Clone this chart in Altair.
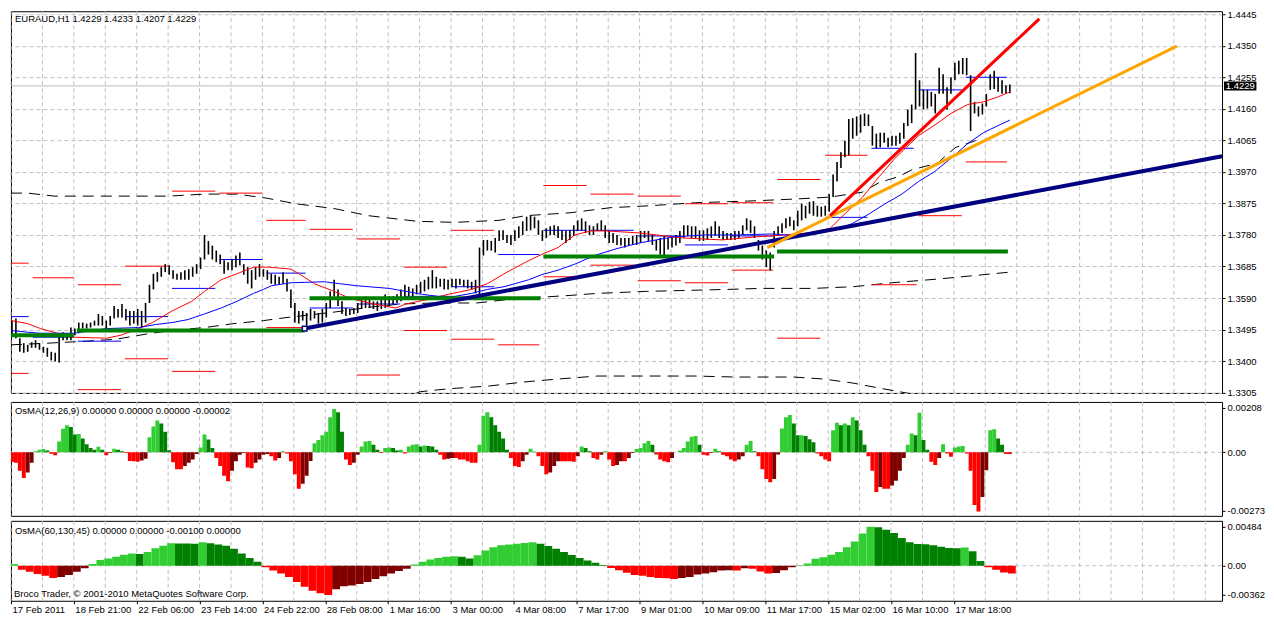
import altair as alt
import pandas as pd

# ---------------- texts ----------------
HEADER = "EURAUD,H1  1.4229 1.4233 1.4207 1.4229"
OSMA1_TITLE = "OsMA(12,26,9) 0.00000 0.00000 0.00000 -0.00002"
OSMA2_TITLE = "OsMA(60,130,45) 0.00000 0.00000 -0.00100 0.00000"
COPYRIGHT = "Broco Trader, \u00a9 2001-2010 MetaQuotes Software Corp."
LAST_PRICE = 1.4229
LAST_TEXT = "1.4229"

PRICE_TICKS = [1.4445, 1.4350, 1.4255, 1.4160, 1.4065, 1.3970, 1.3875,
               1.3780, 1.3685, 1.3590, 1.3495, 1.3400, 1.3305]
OSMA1_TICKS = [0.00208, 0.0, -0.00273]
OSMA1_TEXT = ["0.00208", "0.00", "-0.00273"]
OSMA2_TICKS = [0.00484, 0.0, -0.00362]
OSMA2_TEXT = ["0.00484", "0.00", "-0.00362"]
TIME_LABELS = ["17 Feb 2011", "18 Feb 21:00", "22 Feb 06:00", "23 Feb 14:00",
               "24 Feb 22:00", "28 Feb 08:00", "1 Mar 16:00", "3 Mar 00:00",
               "4 Mar 08:00", "7 Mar 17:00", "9 Mar 01:00", "10 Mar 09:00",
               "11 Mar 17:00", "15 Mar 02:00", "16 Mar 10:00", "17 Mar 18:00"]

# ---------------- price bars (2-hour steps, in pips) ----------------
HIGH = [13522,13528,13469,13454,13449,13457,13463,13454,13443,13440,
        13428,13425,13478,13487,13484,13501,13498,13516,13516,13513,
        13516,13522,13542,13536,13522,13536,13566,13557,13572,13557,
        13551,13551,13557,13551,13575,13630,13663,13668,13683,13692,
        13689,13674,13663,13668,13674,13677,13683,13692,13712,13780,
        13762,13748,13733,13721,13704,13698,13706,13718,13727,13692,
        13683,13674,13683,13692,13677,13674,13663,13660,13654,13668,
        13648,13616,13575,13551,13551,13545,13557,13551,13545,13557,
        13575,13610,13645,13616,13580,13560,13557,13560,13575,13589,
        13595,13589,13580,13580,13589,13601,13595,13595,13601,13616,
        13630,13624,13619,13630,13639,13645,13654,13674,13654,13648,
        13648,13645,13648,13648,13648,13645,13645,13639,13645,13742,
        13765,13765,13762,13771,13794,13794,13780,13780,13794,13806,
        13821,13835,13838,13835,13824,13794,13800,13806,13809,13806,
        13794,13792,13794,13809,13824,13830,13821,13809,13806,13815,
        13824,13809,13792,13786,13780,13771,13771,13771,13777,13780,
        13792,13792,13792,13780,13765,13771,13777,13771,13777,13780,
        13792,13809,13809,13806,13806,13794,13794,13800,13806,13821,
        13806,13792,13786,13786,13792,13792,13809,13830,13824,13806,
        13765,13748,13733,13727,13792,13806,13815,13830,13835,13824,
        13853,13874,13868,13880,13882,13868,13865,13868,13903,13962,
        14000,14029,14064,14129,14132,14137,14143,14146,14143,14108,
        14085,14088,14088,14073,14079,14079,14088,14117,14158,14173,
        14328,14246,14217,14217,14211,14205,14284,14264,14225,14255,
        14299,14305,14313,14313,14261,14181,14167,14176,14205,14264,
        14275,14255,14246,14231,14233]
LOW = [13478,13469,13428,13425,13428,13440,13440,13434,13425,13413,
       13402,13399,13396,13463,13463,13463,13478,13484,13498,13498,
       13501,13507,13507,13507,13498,13507,13528,13531,13531,13522,
       13507,13513,13507,13501,13516,13575,13616,13639,13654,13668,
       13660,13648,13645,13645,13645,13645,13654,13663,13677,13706,
       13721,13706,13698,13692,13663,13674,13674,13683,13689,13660,
       13633,13619,13645,13654,13654,13645,13633,13630,13630,13633,
       13610,13560,13516,13513,13522,13507,13522,13528,13513,13516,
       13531,13560,13595,13566,13542,13536,13539,13542,13545,13557,
       13560,13560,13557,13551,13557,13560,13566,13572,13575,13580,
       13595,13595,13595,13601,13604,13610,13616,13619,13619,13624,
       13616,13616,13624,13619,13630,13624,13619,13616,13604,13595,
       13718,13733,13733,13727,13762,13765,13756,13750,13762,13771,
       13780,13792,13794,13800,13780,13762,13771,13780,13780,13771,
       13765,13756,13765,13777,13792,13794,13786,13780,13780,13792,
       13794,13771,13756,13756,13750,13748,13742,13748,13750,13750,
       13756,13771,13762,13750,13733,13721,13718,13736,13742,13748,
       13756,13771,13777,13771,13771,13762,13762,13765,13771,13777,
       13771,13765,13765,13765,13765,13771,13780,13794,13786,13771,
       13733,13706,13683,13674,13742,13777,13786,13800,13806,13794,
       13806,13824,13830,13844,13838,13835,13835,13838,13850,13894,
       13941,13982,14014,14020,14070,14079,14088,14108,14108,14049,
       14041,14044,14058,14044,14049,14049,14055,14070,14108,14117,
       14158,14167,14158,14161,14167,14146,14205,14205,14158,14205,
       14246,14264,14264,14261,14093,14146,14137,14143,14167,14217,
       14220,14211,14205,14205,14207]

# ---------------- OsMA histograms (1e-5 units) ----------------
OSMA1 = [-45,-49,-86,-120,-94,-49,5,12,15,8,
         -6,-14,50,110,126,118,83,85,65,38,
         20,12,26,12,-14,-3,17,12,5,-3,
         -40,-41,-44,-38,-30,70,120,149,134,96,
         10,-46,-79,-79,-64,-49,-33,-8,23,83,
         60,20,-26,-64,-109,-135,-86,-41,-11,-3,
         -71,-74,-49,-33,-11,-8,-18,-38,-26,5,
         -5,-41,-102,-170,-147,-109,-40,42,58,80,
         96,164,202,187,96,-33,-59,-49,-11,27,
         50,53,35,12,-3,20,23,20,8,12,
         -5,27,35,38,27,32,30,27,12,-11,
         -33,-30,-26,-26,-33,-33,-41,-49,-49,35,
         171,187,164,126,96,65,12,-26,-64,-68,
         -41,-11,17,3,-18,-64,-102,-94,-64,-41,
         -41,-41,-41,-44,-18,27,20,5,-26,-33,
         -11,5,-33,-64,-59,-41,-41,-26,-3,15,
         20,42,53,35,-10,-33,-41,-46,-26,1,
         8,20,50,73,76,35,-11,-15,-3,17,
         5,-11,-18,-33,-41,-33,-18,35,53,5,
         -18,-79,-124,-140,-124,-10,111,164,174,134,
         80,80,76,61,47,-5,-18,-33,-41,103,
         138,126,134,126,164,149,103,35,-18,-86,
         -185,-162,-170,-170,-155,-132,-86,-26,35,88,
         80,184,58,12,-44,-59,-26,38,-5,-21,
         23,27,30,-5,-86,-246,-276,-208,-83,103,
         108,65,35,-8,-8]
OSMA2 = [20,-49,-76,-103,-125,-152,-141,-114,-76,-30,
         20,70,90,110,135,150,146,171,217,247,
         277,276,275,273,290,277,262,247,209,152,
         95,49,-20,-60,-95,-140,-200,-260,-310,-342,
         -362,-290,-255,-245,-225,-200,-165,-130,-95,-65,
         -38,15,50,76,95,112,118,110,90,130,
         190,230,255,264,272,282,290,272,245,209,
         171,133,95,65,38,8,-27,-57,-87,-114,
         -125,-140,-152,-155,-163,-152,-140,-110,-95,-80,
         -60,-55,-58,-30,-38,-70,-95,-90,-55,-19,
         5,27,87,105,135,170,230,300,400,484,
         475,445,405,342,290,270,266,255,235,220,
         217,225,180,60,-20,-50,-85,-95]

# ---------------- moving averages (hour, pips) ----------------
RED_MA = [(0,13522),(8.5,13513),(15,13498),(23.5,13484),(32,13472),(48.5,13469),
          (56,13478),(65,13498),(72,13516),(82,13551),(92,13580),(98.5,13610),
          (107,13645),(115,13663),(123.5,13683),(131,13683),(142.5,13677),(147.5,13660),
          (154.5,13633),(164.5,13610),(172.5,13589),(184.5,13572),(196,13560),(201,13572),
          (212.5,13586),(222.5,13601),(234.5,13616),(242.5,13633),(252.5,13668),(262,13698),
          (270,13721),(278.5,13742),(287,13780),(295,13792),(303.5,13792),(320,13786),
          (328.5,13780),(342,13771),(362,13765),(378.5,13774),(393.5,13780),(406,13786),
          (417,13800),(423.5,13838),(433.5,13894),(442,13956),(450,14011),(462,14079),
          (471,14114),(478.5,14146),(487,14173),(495,14181),(502.5,14196),(508.5,14211)]
BLUE_MA = [(0,13492),(8.5,13487),(15,13484),(32,13484),(48.5,13498),(65,13501),
           (73.5,13510),(82,13516),(90,13525),(98.5,13542),(107,13560),(115,13580),
           (123.5,13604),(128.5,13616),(132.5,13627),(142.5,13636),(159.5,13639),(167.5,13633),
           (176,13627),(192.5,13619),(201,13610),(209.5,13601),(217.5,13595),(226,13595),
           (234.5,13604),(242.5,13616),(251,13624),(263.5,13645),(270,13660),(278.5,13674),
           (287,13692),(297,13718),(308.5,13739),(320,13756),(328.5,13765),(337,13774),
           (353.5,13780),(370,13780),(387,13783),(400,13777),(412,13786),(422,13800),
           (428.5,13815),(437,13844),(445,13874),(453.5,13903),(462,13941),(470,13970),
           (478.5,14011),(487,14055),(495,14088),(502,14108),(508.5,14126)]
ENV_UPPER = [(0,13906),(8.5,13906),(22,13897),(53.5,13897),(80,13897),(98.5,13903),
             (115,13903),(130,13891),(145,13874),(165,13859),(182,13838),(207,13821),
             (226,13818),(248.5,13824),(262,13838),(285,13847),(305,13862),(325,13868),
             (348.5,13877),(375,13882),(398.5,13888),(417,13894),(433.5,13909),(442,13938),
             (452,13956),(458.5,13976),(472,13997),(476,14020),(481,14044),(491,14064)]
ENV_MIDDLE = [(0,13449),(18.5,13454),(38.5,13460),(53.5,13466),(68.5,13481),(81,13492),
              (98.5,13501),(113.5,13513),(128.5,13522),(140,13531),(165,13548),(183.5,13563),
              (198.5,13572),(215,13575),(237,13575),(253.5,13586),(268.5,13592),(285,13598),
              (298.5,13604),(323.5,13610),(365,13616),(382,13619),(408.5,13619),(428.5,13624),
              (448.5,13636),(473.5,13648),(508.5,13668)]
ENV_LOWER = [(188.5,13287),(201,13296),(208.5,13308),(223.5,13317),(243.5,13325),(261,13337),
             (278.5,13346),(298.5,13355),(323.5,13355),(348.5,13355),(368.5,13352),(398.5,13352),
             (413.5,13346),(428.5,13334),(443.5,13317),(463.5,13296),(473.5,13284)]

# ---------------- daily levels (start hour, end hour, pips) ----------------
RED_LEVELS = [(0,9,13695),(11,32,13651),(34,56,13630),(58,80,13686),(82,104,13912),
              (106,128,13906),(130,150,13824),(152,174,13797),(176,198,13768),(200,222,13683),
              (224,246,13794),(271,293,13929),(295,317,13903),(319,341,13897),(343,365,13874),
              (367,388,13877),(390,412,13947),(414.5,436,14020),(462,484,13838),(486,507,14000),
              (0,9,13363),(34,56,13314),(58,80,13407),(82,104,13369),(130,150,13501),
              (176,198,13358),(200,222,13492),(224,246,13466),(248,269,13449),(271,293,13654),
              (295,317,13689),(319,341,13642),(343,365,13636),(367,388,13674),(390,412,13469),
              (438.5,461,13630)]
BLUE_LEVELS = [(0,9,13534),(11,32,13472),(34,56,13460),(58,80,13534),(82,104,13619),
               (106,128,13706),(130,150,13665),(152,174,13560),(176,198,13572),(200,222,13595),
               (224,246,13624),(248,269,13721),(271,293,13794),(295,317,13794),(319,341,13777),
               (343,365,13750),(367,388,13777),(414.5,436,13833),(438,459.5,14041),
               (462,484,14217),(486,507,14255)]
GREEN_LEVELS = [(0,32,13478),(33.5,149.5,13492),(152,269.5,13589),(271,388.5,13715),
                (390,507.5,13730)]

# ---------------- trend lines (hour, price) ----------------
NAVY_TL = [(149.5, 1.3498), (616.5, 1.4017)]
ORANGE_TL = [(385, 1.3742), (593.5, 1.4349)]
RED_TL = [(417, 1.3838), (523.5, 1.4431)]

# ---------------- layout ----------------
W = 1212
H_MAIN, H_OS1, H_OS2 = 382, 114, 80
X_DOMAIN = [0, 616.5]
P_DOMAIN = [1.33041, 1.44539]
OS1_DOMAIN = [-0.00296, 0.00235]
OS2_DOMAIN = [-0.00434, 0.00556]
FONT = "Liberation Sans"
FS = 9.5
GRID = "#c0c0c0"
LIME, DKGREEN, RED, MAROON = "#32cd32", "#008000", "#ff0000", "#800000"

grid_h = pd.DataFrame({"h": [16 * j for j in range(39)]})

XS = alt.Scale(domain=X_DOMAIN, nice=False, zero=False)


def xq(f, axis=None):
    return alt.X(f, type="quantitative", scale=XS, axis=axis)


def make_yaxis(values, expr=None, fmt=None, grid=True):
    kw = dict(orient="right", values=values, grid=grid, gridColor=GRID, gridDash=[4, 3],
              tickSize=3, tickColor="black", domain=False, labelFont=FONT, labelFontSize=FS,
              labelColor="black", labelPadding=2, labelOverlap=False, labelFlush=False,
              labelBound=False, title=None, zindex=0)
    if expr:
        kw["labelExpr"] = expr
    if fmt:
        kw["format"] = fmt
    return alt.Axis(**kw)


def tick_expr(ticks, texts):
    parts = []
    for t, s in zip(ticks, texts):
        parts.append(f"abs(datum.value - ({t})) < 1e-7 ? '{s}'")
    return " : ".join(parts) + " : ''"


PS = alt.Scale(domain=P_DOMAIN, nice=False, zero=False)
PAX = make_yaxis(PRICE_TICKS, fmt=".4f")


def py(f):
    return alt.Y(f, type="quantitative", scale=PS, axis=PAX)


# ---------------- data frames ----------------
bars = pd.DataFrame({"h": [0.5 + 2 * k for k in range(len(HIGH))],
                     "lo": [v / 1e4 for v in LOW], "hi": [v / 1e4 for v in HIGH]})


def line_df(pts, name):
    return pd.DataFrame({"h": [p[0] for p in pts], "p": [p[1] / 1e4 for p in pts],
                         "name": name, "o": list(range(len(pts)))})


env = pd.concat([line_df(ENV_UPPER, "u"), line_df(ENV_MIDDLE, "m"), line_df(ENV_LOWER, "l")])
red_ma = line_df(RED_MA, "r")
blue_ma = line_df(BLUE_MA, "b")


def seg_df(segs):
    return pd.DataFrame({"h1": [s[0] for s in segs], "h2": [s[1] for s in segs],
                         "p": [s[2] / 1e4 for s in segs]})


def tl_df(pts):
    return pd.DataFrame({"h": [p[0] for p in pts], "p": [p[1] for p in pts]})


def osma_df(vals, step, offset):
    rows = []
    prev = 0
    for i, v in enumerate(vals):
        if v >= 0:
            c = LIME if v >= prev else DKGREEN
        else:
            c = RED if v <= prev else MAROON
        prev = v
        h = offset + step * i
        rows.append({"h1": h - step / 2, "h2": h + step / 2, "v": v / 1e5, "z": 0.0, "c": c})
    return pd.DataFrame(rows)


os1 = osma_df(OSMA1, 2, 0.5)
os2 = osma_df(OSMA2, 4, 1.5)

# ---------------- main panel ----------------
vgrid = alt.Chart(grid_h).mark_rule(color=GRID, strokeDash=[4, 3], strokeWidth=1).encode(x=xq("h"))
bid = alt.Chart(pd.DataFrame({"p": [LAST_PRICE]})).mark_rule(color=GRID, strokeWidth=1).encode(y=py("p"))
env_l = alt.Chart(env).mark_line(color="black", strokeWidth=1, strokeDash=[11, 7], clip=True).encode(
    x=xq("h"), y=py("p"), detail="name:N", order="o:Q")
red_lv = alt.Chart(seg_df(RED_LEVELS)).mark_rule(color=RED, strokeWidth=1).encode(
    x=xq("h1"), x2="h2", y=py("p"))
blue_lv = alt.Chart(seg_df(BLUE_LEVELS)).mark_rule(color="#0000ff", strokeWidth=1).encode(
    x=xq("h1"), x2="h2", y=py("p"))
price = alt.Chart(bars).mark_rule(color="black", strokeWidth=1.6).encode(
    x=xq("h"), y=py("lo"), y2="hi")
red_l = alt.Chart(red_ma).mark_line(color=RED, strokeWidth=1).encode(x=xq("h"), y=py("p"), order="o:Q")
blue_l = alt.Chart(blue_ma).mark_line(color="#0000ff", strokeWidth=1).encode(x=xq("h"), y=py("p"), order="o:Q")
green_lv = alt.Chart(seg_df(GREEN_LEVELS)).mark_rule(color=DKGREEN, strokeWidth=4, strokeCap="butt").encode(
    x=xq("h1"), x2="h2", y=py("p"))
navy = alt.Chart(tl_df(NAVY_TL)).mark_line(color="#000080", strokeWidth=4, clip=True).encode(x=xq("h"), y=py("p"))
orange = alt.Chart(tl_df(ORANGE_TL)).mark_line(color="#ffa500", strokeWidth=3, clip=True).encode(x=xq("h"), y=py("p"))
red_tl = alt.Chart(tl_df(RED_TL)).mark_line(color=RED, strokeWidth=3, clip=True).encode(x=xq("h"), y=py("p"))
anchor = alt.Chart(tl_df(NAVY_TL[:1])).mark_square(fill="white", stroke="#000080", strokeWidth=1.5,
                                                   size=22, opacity=1).encode(x=xq("h"), y=py("p"))
box = alt.Chart(pd.DataFrame({"a": [617.5], "b": [634.0], "y1": [LAST_PRICE - 0.00135],
                              "y2": [LAST_PRICE + 0.00135]})).mark_rect(color="black").encode(
    x=xq("a"), x2="b", y=py("y1"), y2="y2")
box_t = alt.Chart(pd.DataFrame({"a": [618.4], "p": [LAST_PRICE], "t": [LAST_TEXT]})).mark_text(
    color="white", align="left", baseline="middle", font=FONT, fontSize=FS).encode(
    x=xq("a"), y=py("p"), text="t:N")
head = alt.Chart(pd.DataFrame({"t": [HEADER]})).mark_text(
    align="left", baseline="middle", font=FONT, fontSize=FS, color="black").encode(
    x=alt.value(4), y=alt.value(8), text="t:N")

main = alt.layer(vgrid, bid, env_l, red_lv, blue_lv, price, red_l, blue_l, green_lv,
                 navy, orange, red_tl, anchor, box, box_t, head).properties(width=W, height=H_MAIN)

# ---------------- OsMA 1 ----------------
S1 = alt.Scale(domain=OS1_DOMAIN, nice=False, zero=False)
A1 = make_yaxis(OSMA1_TICKS, expr=tick_expr(OSMA1_TICKS, OSMA1_TEXT), grid=False)
zero1 = alt.Chart(pd.DataFrame({"v": [0.0]})).mark_rule(color=GRID, strokeDash=[4, 3]).encode(
    y=alt.Y("v:Q", scale=S1, axis=A1))
hist1 = alt.Chart(os1).mark_bar(clip=True).encode(
    x=xq("h1"), x2="h2", y=alt.Y("v:Q", scale=S1, axis=A1), y2="z",
    color=alt.Color("c:N", scale=None))
t1 = alt.Chart(pd.DataFrame({"t": [OSMA1_TITLE]})).mark_text(
    align="left", baseline="middle", font=FONT, fontSize=FS, color="black").encode(
    x=alt.value(4), y=alt.value(9), text="t:N")
panel1 = alt.layer(alt.Chart(grid_h).mark_rule(color=GRID, strokeDash=[4, 3]).encode(x=xq("h")),
                   zero1, hist1, t1).properties(width=W, height=H_OS1)

# ---------------- OsMA 2 ----------------
TAX = alt.Axis(values=[32 * j for j in range(len(TIME_LABELS))],
               labelExpr="[" + ",".join("'" + s + "'" for s in TIME_LABELS) + "][round(datum.value/32)]",
               labelAlign="left", labelPadding=1, labelOffset=1, tickSize=3, tickColor="black",
               domain=False, grid=False, labelFont=FONT, labelFontSize=FS, labelColor="black",
               labelOverlap=False, labelFlush=False, labelBound=False, title=None)
S2 = alt.Scale(domain=OS2_DOMAIN, nice=False, zero=False)
A2 = make_yaxis(OSMA2_TICKS, expr=tick_expr(OSMA2_TICKS, OSMA2_TEXT), grid=False)


def xb(f):
    return alt.X(f, type="quantitative", scale=XS, axis=TAX)


zero2 = alt.Chart(pd.DataFrame({"v": [0.0]})).mark_rule(color=GRID, strokeDash=[4, 3]).encode(
    y=alt.Y("v:Q", scale=S2, axis=A2))
hist2 = alt.Chart(os2).mark_bar(clip=True).encode(
    x=xb("h1"), x2="h2", y=alt.Y("v:Q", scale=S2, axis=A2), y2="z",
    color=alt.Color("c:N", scale=None))
t2 = alt.Chart(pd.DataFrame({"t": [OSMA2_TITLE]})).mark_text(
    align="left", baseline="middle", font=FONT, fontSize=FS, color="black").encode(
    x=alt.value(4), y=alt.value(10), text="t:N")
t3 = alt.Chart(pd.DataFrame({"t": [COPYRIGHT]})).mark_text(
    align="left", baseline="middle", font=FONT, fontSize=FS, color="black").encode(
    x=alt.value(3), y=alt.value(H_OS2 - 7), text="t:N")
panel2 = alt.layer(alt.Chart(grid_h).mark_rule(color=GRID, strokeDash=[4, 3]).encode(x=xb("h")),
                   zero2, hist2, t2, t3).properties(width=W, height=H_OS2)

chart = alt.vconcat(main, panel1, panel2, spacing=3).properties(
    padding=0, background="white"
).configure(font=FONT).configure_view(stroke="black", strokeWidth=1)

chart.save("out.html", embed_options={"renderer": "svg", "actions": False})
